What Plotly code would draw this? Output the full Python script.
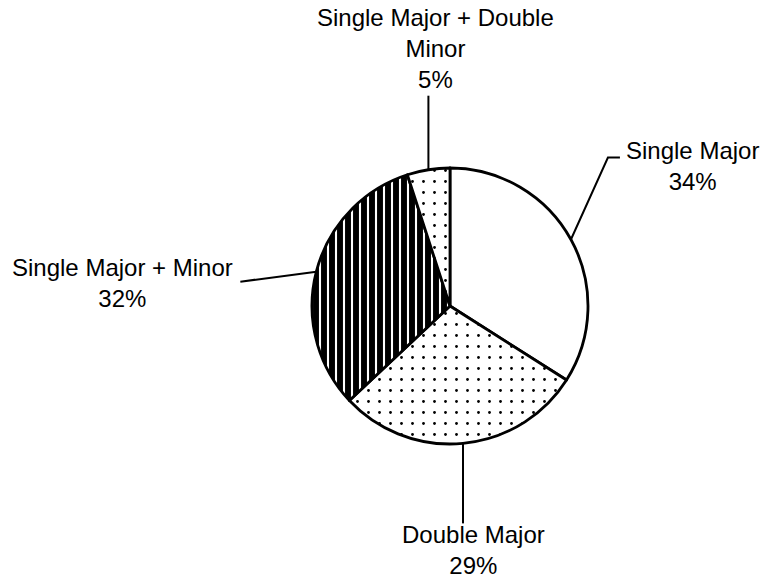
import math
import plotly.graph_objects as go

# ---- data ----
labels = ["Single Major", "Double Major", "Single Major + Minor", "Single Major + Double Minor"]
values = [34, 29, 32, 5]
label_lines = ["Single Major", "Double Major", "Single Major + Minor", "Single Major + Double<br>Minor"]

# ---- layout constants (pixels) ----
W, H = 763, 579
CX, CY, R = 450, 306, 138
FONT = dict(family="Arial, Liberation Sans, sans-serif", size=24, color="black")

# leader-line bend points and label centres, as offsets from the slice's mid-edge point
leader_offsets = [
    [(37, -82), (49, -82)],
    [(0, 80)],
    [(-76, 10)],
    [(0, -74)],
]
label_offsets = [(122, -74), (11, 107), (-194, 11), (7, -121)]

fig = go.Figure(go.Pie(
    labels=labels, values=values, sort=False, direction="clockwise", rotation=0,
    textinfo="none", hoverinfo="label+percent", showlegend=False,
    marker=dict(
        colors=["white"] * 4,
        line=dict(color="black", width=2.8),
        pattern=dict(shape=["", ".", "|", "."], fgcolor="black", bgcolor="white",
                     size=[8, 11, 8, 11], solidity=[0.3, 0.05, 0.74, 0.05]),
    ),
    domain=dict(x=[(CX - R) / W, (CX + R) / W], y=[1 - (CY + R) / H, 1 - (CY - R) / H]),
))


def px2paper(x, y):
    return x / W, 1 - y / H


total = sum(values)
cum = 0
shapes, annotations = [], []
for i, v in enumerate(values):
    mid = (cum + v / 2) / total * 2 * math.pi
    cum += v
    ex, ey = CX + R * math.sin(mid), CY - R * math.cos(mid)
    pts = [(ex, ey)] + [(ex + dx, ey + dy) for dx, dy in leader_offsets[i]]
    path = ""
    for j, (x, y) in enumerate(pts):
        px, py = px2paper(x, y)
        path += ("M" if j == 0 else "L") + f"{px:.5f},{py:.5f} "
    shapes.append(dict(type="path", xref="paper", yref="paper", path=path.strip(),
                       line=dict(color="black", width=2)))
    lx, ly = px2paper(ex + label_offsets[i][0], ey + label_offsets[i][1])
    pct = round(100 * v / total)
    annotations.append(dict(x=lx, y=ly, xref="paper", yref="paper", xanchor="center", yanchor="middle",
                            text=f"{label_lines[i]}<br>{pct}%", showarrow=False, align="center", font=FONT))

fig.update_layout(
    width=W, height=H, margin=dict(l=0, r=0, t=0, b=0),
    paper_bgcolor="white", plot_bgcolor="white",
    shapes=shapes, annotations=annotations,
)

fig.write_html("out.html", config={"displayModeBar": False},
               post_script="document.body.style.margin='0';document.body.style.overflow='hidden';")
